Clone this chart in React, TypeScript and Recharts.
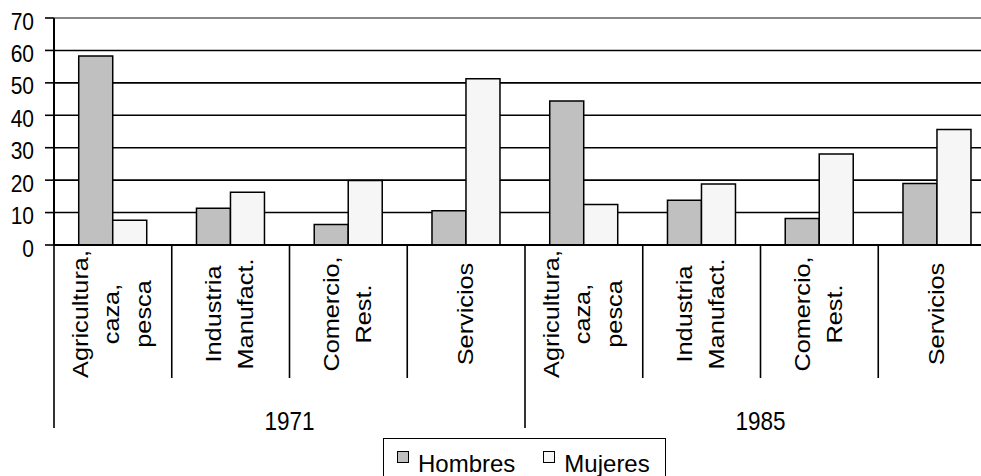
import React from 'react';
import { BarChart, Bar, XAxis, YAxis, CartesianGrid, ReferenceLine, Legend } from 'recharts';

const years = ['1971', '1985'];
const sectors = [['Agricultura,', 'caza,', 'pesca'], ['Industria', 'Manufact.'], ['Comercio,', 'Rest.'], ['Servicios']];
const hombres = [58.3, 11.3, 6.3, 10.6, 44.4, 13.8, 8.2, 19.0];
const mujeres = [7.6, 16.3, 19.9, 51.3, 12.5, 18.8, 28.1, 35.6];
const yTicks = [0, 10, 20, 30, 40, 50, 60, 70];
const seriesNames = ['Hombres', 'Mujeres'];
const seriesColors = ['#c0c0c0', '#f6f6f6'];

const data = years.flatMap((year, yi) =>
  sectors.map((lines, si) => {
    const i = yi * sectors.length + si;
    return { key: `${year}-${si}`, year, lines, Hombres: hombres[i], Mujeres: mujeres[i] };
  })
);

const FONT = '"Liberation Sans", Arial, sans-serif';
const W = 1000;
const H = 476;
const MARGIN = { top: 18, right: 4, bottom: 0, left: 0 };
const Y_W = 54;
const CAT_H = 133;
const YEAR_H = 50;
const LEGEND_H = 48;
const BAND = (W - MARGIN.left - MARGIN.right - Y_W) / data.length;
const STRETCH = 1.16;

function YTick({ x, y, payload }: any) {
  return (
    <text
      transform={`translate(${x},${y + 3}) scale(1,${STRETCH})`}
      textAnchor="end"
      dominantBaseline="central"
      fontSize={21}
      fontFamily={FONT}
      fill="#000"
    >
      {payload.value}
    </text>
  );
}

function CategoryTick({ x, y, index }: any) {
  const row = data[index];
  if (!row) return null;
  const n = row.lines.length;
  const groupStart = index % sectors.length === 0;
  const last = index === data.length - 1;
  return (
    <g>
      <line
        x1={x - BAND / 2}
        x2={x - BAND / 2}
        y1={y}
        y2={y + (groupStart ? CAT_H + YEAR_H : CAT_H)}
        stroke="#000"
        strokeWidth={1.6}
      />
      {last && (
        <line x1={x + BAND / 2} x2={x + BAND / 2} y1={y} y2={y + CAT_H + YEAR_H} stroke="#000" strokeWidth={1.6} />
      )}
      <text
        transform={`translate(${x - 1},${y + 69}) rotate(-90) scale(${STRETCH},1)`}
        textAnchor="middle"
        dominantBaseline="central"
        fontSize={21.8}
        fontFamily={FONT}
        fill="#000"
      >
        {row.lines.map((line: string, i: number) => (
          <tspan key={i} x={0} y={(i - (n - 1) / 2) * 31.5}>
            {line}
          </tspan>
        ))}
      </text>
    </g>
  );
}

function YearTick({ x, y, index }: any) {
  if (index % sectors.length !== 0) return null;
  const row = data[index];
  const cx = x - BAND / 2 + (BAND * sectors.length) / 2;
  return (
    <text
      transform={`translate(${cx},${y + 43}) scale(1,${STRETCH})`}
      textAnchor="middle"
      dominantBaseline="central"
      fontSize={22.5}
      fontFamily={FONT}
      fill="#000"
    >
      {row.year}
    </text>
  );
}

function LegendBox() {
  return (
    <div style={{ paddingTop: 10, fontFamily: FONT }}>
      <div
        style={{
          width: 283,
          height: 44,
          border: '1.6px solid #000',
          boxSizing: 'border-box',
          paddingLeft: 13,
          display: 'flex',
          alignItems: 'flex-start',
          background: '#fff',
        }}
      >
        {seriesNames.map((name, i) => (
          <div key={name} style={{ display: 'flex', alignItems: 'flex-start', marginRight: i === 0 ? 28 : 0 }}>
            <div
              style={{
                width: 12,
                height: 12,
                marginTop: 12,
                marginRight: 9,
                border: '1px solid #000',
                boxSizing: 'border-box',
                background: seriesColors[i],
              }}
            />
            <div style={{ fontSize: 24, lineHeight: '24px', marginTop: 12.5, color: '#000' }}>{name}</div>
          </div>
        ))}
      </div>
    </div>
  );
}

export default function App() {
  return (
    <div style={{ position: 'fixed', left: 0, top: 0, width: 981, height: 476, overflow: 'hidden', background: '#fff' }}>
      <BarChart width={W} height={H} data={data} margin={MARGIN} barCategoryGap="21%" barGap={0}>
        <CartesianGrid xAxisId="cat" vertical={false} stroke="#000" strokeWidth={1.6} />
        <XAxis
          xAxisId="cat"
          dataKey="key"
          height={CAT_H}
          interval={0}
          tickLine={false}
          tickSize={0}
          tickMargin={0}
          axisLine={{ stroke: '#000', strokeWidth: 2 }}
          tick={(p: any) => <CategoryTick {...p} />}
        />
        <XAxis
          xAxisId="year"
          dataKey="key"
          height={YEAR_H}
          interval={0}
          axisLine={false}
          tickLine={false}
          tickSize={0}
          tickMargin={0}
          tick={(p: any) => <YearTick {...p} />}
        />
        <YAxis
          width={Y_W}
          domain={[0, 70]}
          ticks={yTicks}
          interval={0}
          tickSize={9}
          tickMargin={11}
          axisLine={{ stroke: '#000', strokeWidth: 2 }}
          tickLine={{ stroke: '#000', strokeWidth: 1.6 }}
          tick={(p: any) => <YTick {...p} />}
        />
        <ReferenceLine xAxisId="cat" y={70} stroke="#888" strokeWidth={2} />
        {seriesNames.map((name, i) => (
          <Bar
            key={name}
            xAxisId="cat"
            dataKey={name}
            name={name}
            fill={seriesColors[i]}
            stroke="#000"
            strokeWidth={1.5}
            isAnimationActive={false}
          />
        ))}
        <Legend
          verticalAlign="bottom"
          content={() => <LegendBox />}
          wrapperStyle={{ left: 383, top: H - LEGEND_H, width: 300, height: LEGEND_H }}
        />
      </BarChart>
    </div>
  );
}
